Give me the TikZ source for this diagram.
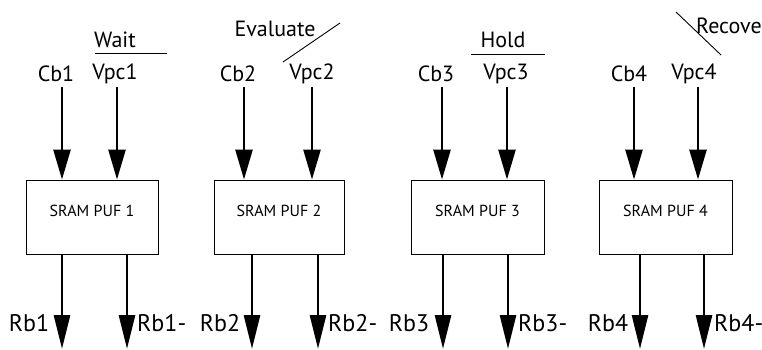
\documentclass[tikz,border=0pt]{standalone}
\usepackage{fontspec}
\setmainfont{PT Sans}
\usetikzlibrary{positioning, arrows.meta}

\tikzset{
    pufbox/.style={draw, line width=0.9pt, minimum height=74pt, inner sep=0pt},
    sig/.style={inner sep=0pt, font=\fontsize{22}{24}\selectfont},
    outsig/.style={inner sep=0pt, font=\fontsize{24}{26}\selectfont},
    inarrow/.style={line width=2.6pt, -{Triangle[width=17pt, length=30pt]}},
    outarrow/.style={line width=2.6pt, -{Triangle[width=16pt, length=34pt]}},
    phase/.style={line width=0.9pt}
}

\begin{document}
\begin{tikzpicture}[x=1pt, y=-1pt]
    \useasboundingbox (0,0) rectangle (762,350);
    % SRAM PUF blocks
    \node[pufbox, minimum width=132pt] (puf1) at (92,217) {};
    \node[pufbox, minimum width=130pt] (puf2) at (279,217) {};
    \node[pufbox, minimum width=133pt] (puf3) at (477.5,217) {};
    \node[pufbox, minimum width=133pt] (puf4) at (665.5,217) {};
    \foreach \i in {1,...,4}
        \node[inner sep=0pt, font=\fontsize{16}{18}\selectfont] (puftext\i)
            at ([yshift=6pt]puf\i.center) {SRAM PUF \i};
    % Input labels
    \node[sig] (cb1) at (56,74) {Cb1};
    \node[sig] (vpc1) at (115,74) {Vpc1};
    \node[sig] (cb2) at (238,74) {Cb2};
    \node[sig] (vpc2) at (312,74) {Vpc2};
    \node[sig] (cb3) at (436,74) {Cb3};
    \node[sig] (vpc3) at (506,74) {Vpc3};
    \node[sig] (cb4) at (629,74) {Cb4};
    \node[sig] (vpc4) at (694,74) {Vpc4};
    % Input arrows
    \foreach \name/\x/\blk in {cb1/62/puf1, vpc1/117/puf1, cb2/244/puf2, vpc2/312/puf2,
                               cb3/442/puf3, vpc3/507/puf3, cb4/634/puf4, vpc4/698/puf4} {
        \coordinate (\name in) at (\x,87);
        \draw[inarrow] (\name in) -- (\name in |- \blk.north);
    }
    % Output arrows
    \foreach \name/\x/\blk in {rb1/62/puf1, rbb1/127/puf1, rb2/252/puf2, rbb2/318/puf2,
                               rb3/443/puf3, rbb3/508/puf3, rb4/640/puf4, rbb4/704/puf4} {
        \coordinate (\name out) at (\x,349);
        \draw[outarrow] (\name out |- \blk.south) -- (\name out);
    }
    % Output labels
    \node[outsig] (rb1) at (29,323) {Rb1};
    \node[outsig, anchor=west] (rbb1) at (137,323) {Rb1-};
    \node[outsig] (rb2) at (220,323) {Rb2};
    \node[outsig, anchor=west] (rbb2) at (328,323) {Rb2-};
    \node[outsig] (rb3) at (409,323) {Rb3};
    \node[outsig, anchor=west] (rbb3) at (518,323) {Rb3-};
    \node[outsig] (rb4) at (608,323) {Rb4};
    \node[outsig, anchor=west] (rbb4) at (714,323) {Rb4-};
    % Phase labels
    \node[sig] (wait) at (115,40) {Wait};
    \draw[phase] (95,53) -- (167,53);
    \node[sig] (eval) at (275,29) {Evaluate};
    \draw[phase] (283,62) -- (340,23);
    \node[sig] (hold) at (503,40) {Hold};
    \draw[phase] (471,54) -- (545,54);
    \node[sig, anchor=west] (recover) at (696,26) {Recover};
    \draw[phase] (676,12) -- (721,55);
\end{tikzpicture}
\end{document}
